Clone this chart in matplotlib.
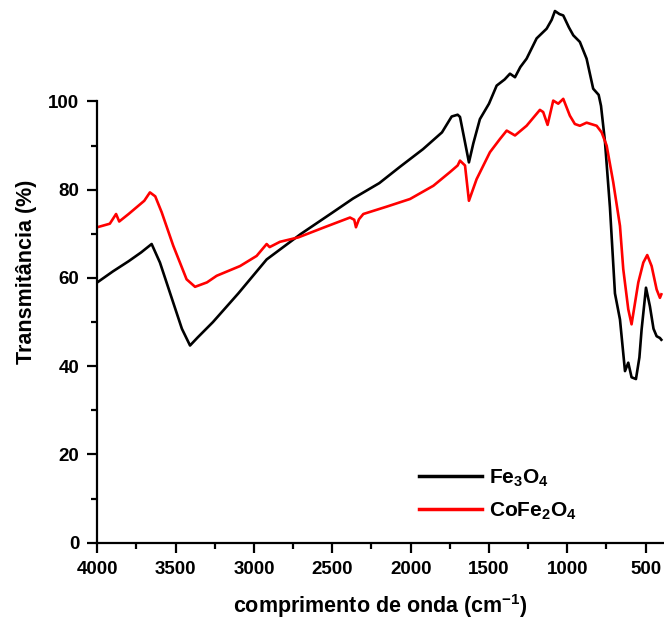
import matplotlib
matplotlib.use("Agg")
import matplotlib.pyplot as plt
from matplotlib.ticker import MultipleLocator, FixedLocator

plt.rcParams['font.family'] = ['Liberation Sans', 'DejaVu Sans']
plt.rcParams['font.weight'] = 'bold'
plt.rcParams['mathtext.fontset'] = 'custom'
plt.rcParams['mathtext.rm'] = 'Liberation Sans:bold'
plt.rcParams['mathtext.bf'] = 'Liberation Sans:bold'
plt.rcParams['mathtext.default'] = 'bf'

# FTIR spectra (wavenumber in cm^-1, transmittance in %)
fe3o4_wn = [4000, 3900, 3800, 3720, 3653, 3600, 3530, 3460, 3408, 3360, 3262,
            3100, 2919, 2700, 2500, 2368, 2200, 2068, 1921, 1800, 1738, 1700,
            1685, 1660, 1628, 1600, 1558, 1500, 1451, 1400, 1366, 1334, 1300,
            1260, 1196, 1132, 1100, 1079, 1050, 1026, 990, 962, 920, 877, 835,
            800, 785, 760, 728, 696, 664, 632, 611, 590, 562, 540, 526, 498, 473,
            450, 430, 409, 400]
fe3o4_t = [59.0, 61.5, 63.8, 65.8, 67.7, 63.5, 56.0, 48.5, 44.7, 46.5, 50.0,
           56.5, 64.2, 70.0, 74.8, 78.0, 81.5, 85.2, 89.2, 93.0, 96.6, 97.0,
           96.5, 92.0, 86.2, 90.5, 96.0, 99.5, 103.6, 105.0, 106.3, 105.5,
           107.8, 109.7, 114.3, 116.5, 118.5, 120.5, 119.8, 119.5, 116.8, 115.0,
           113.5, 109.7, 102.9, 101.5, 99.0, 91.0, 76.0, 56.5, 50.6, 38.9, 40.8,
           37.5, 37.1, 42.0, 48.3, 57.8, 53.6, 48.5, 46.8, 46.4, 46.0]

cofe2o4_wn = [4000, 3920, 3880, 3860, 3800, 3750, 3700, 3664, 3630, 3589, 3515,
              3430, 3376, 3300, 3238, 3089, 2983, 2919, 2900, 2834, 2717, 2550,
              2387, 2360, 2349, 2330, 2302, 2150, 2004, 1855, 1749, 1700, 1685,
              1653, 1628, 1579, 1494, 1430, 1387, 1334, 1260, 1175, 1154, 1126,
              1090, 1058, 1026, 984, 952, 920, 877, 813, 781, 749, 707, 664, 643,
              611, 590, 547, 515, 490, 462, 430, 409, 400]
cofe2o4_t = [71.5, 72.3, 74.5, 72.8, 74.5, 76.0, 77.5, 79.4, 78.5, 74.9, 67.3,
             59.7, 58.0, 59.0, 60.5, 62.7, 65.0, 67.7, 67.0, 68.2, 69.2, 71.5,
             73.7, 73.2, 71.5, 73.3, 74.5, 76.2, 77.9, 80.9, 84.0, 85.5, 86.6,
             85.5, 77.5, 82.4, 88.5, 91.5, 93.4, 92.3, 94.5, 98.1, 97.6, 94.7,
             100.2, 99.5, 100.6, 96.8, 94.9, 94.5, 95.2, 94.5, 93.0, 90.0, 81.7,
             71.8, 62.0, 52.9, 49.5, 59.0, 63.5, 65.2, 62.7, 57.4, 55.5, 56.3]

series_labels = [r'Fe$_3$O$_4$', r'CoFe$_2$O$_4$']

fig = plt.figure(figsize=(6.64, 6.26), dpi=100)
ax = fig.add_axes([0.1465, 0.133, 0.8535, 0.867])

ax.plot(fe3o4_wn, fe3o4_t, color='black', lw=1.9, label=series_labels[0])
ax.plot(cofe2o4_wn, cofe2o4_t, color='#ff0000', lw=1.9, label=series_labels[1])

ax.set_xlim(4000, 383)
ax.set_ylim(0, 123)

ax.spines['top'].set_visible(False)
ax.spines['right'].set_visible(False)
ax.spines['left'].set_linewidth(1.6)
ax.spines['bottom'].set_linewidth(1.6)
ax.spines['left'].set_bounds(0, 100)

ax.set_xticks([4000, 3500, 3000, 2500, 2000, 1500, 1000, 500])
ax.xaxis.set_minor_locator(MultipleLocator(250))
ax.set_yticks([0, 20, 40, 60, 80, 100])
ax.yaxis.set_minor_locator(FixedLocator([10, 30, 50, 70, 90]))
ax.tick_params(which='major', direction='out', length=7, width=1.6,
               labelsize=13.5, pad=6)
ax.tick_params(which='minor', direction='out', length=4, width=1.6)
for lab in ax.get_xticklabels() + ax.get_yticklabels():
    lab.set_fontweight('bold')

ax.set_xlabel('comprimento de onda (cm$^{-1}$)', fontsize=15.5,
              fontweight='bold', labelpad=10)
ax.set_ylabel('Transmitância (%)', fontsize=15.5, fontweight='bold', labelpad=8)

leg = ax.legend(loc='lower left', bbox_to_anchor=(0.535, 0.004), frameon=False,
                fontsize=15, handlelength=3.0, handletextpad=0.35,
                labelspacing=0.55)
for line in leg.get_lines():
    line.set_linewidth(2.5)

fig.savefig('out.png', dpi=100)
